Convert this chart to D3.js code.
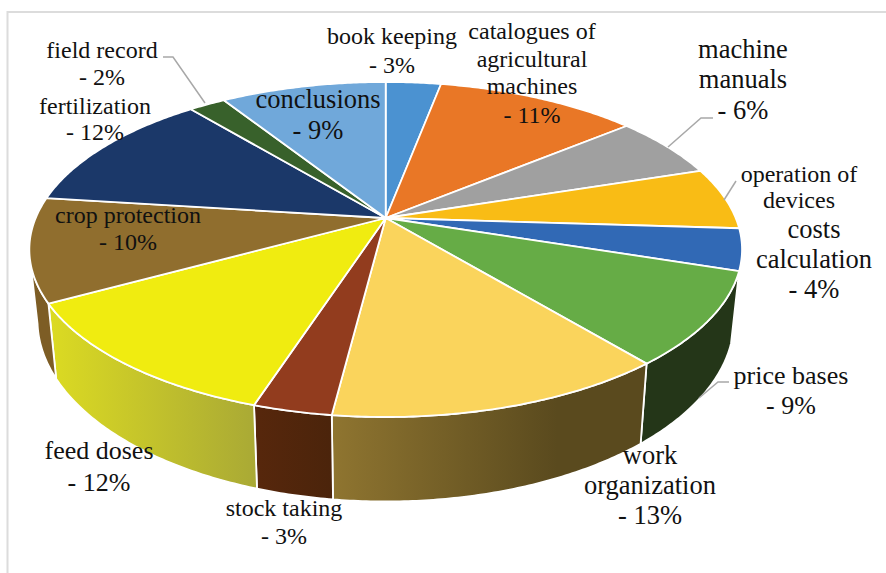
<!DOCTYPE html>
<html>
<head>
<meta charset="utf-8">
<script src="https://cdn.jsdelivr.net/npm/d3@7"></script>
<style>
html,body{margin:0;padding:0;background:#fff;overflow:hidden}
svg{display:block}
text{font-family:"Liberation Serif",serif;fill:#111;text-anchor:middle}
</style>
</head>
<body>
<svg id="chart" width="886" height="573"></svg>
<script>
// DATA
const categories = ["book keeping","catalogues of agricultural machines","machine manuals","operation of devices","costs calculation","price bases","work organization","stock taking","feed doses","crop protection","fertilization","field record","conclusions"];
const shares = [3,11,6,6,4,9,13,3,12,10,12,2,9];
const faceColors = ["#4b92d1","#e97726","#a0a0a0","#f9bc15","#3169b5","#66ac46","#fad45c","#923c1e","#f0ec10","#906e2e","#1b3869","#38612b","#70a8da"];
const wallColorsFrom = [null,null,null,null,null,"#243618","#8f7530","#57270c","#dcdb22","#7d5d25",null,null,null];
const wallColorsTo   = [null,null,null,null,null,"#243618","#5a4a1e","#4b240b","#a9a935","#7d5d25",null,null,null];

// LABEL LAYOUT: [text lines, centre x, baselines, font size]
const labelLines = [
  ["book keeping","- 3%"],
  ["catalogues of","agricultural","machines","- 11%"],
  ["machine","manuals","- 6%"],
  ["operation of","devices"],
  ["costs","calculation","- 4%"],
  ["price bases","- 9%"],
  ["work","organization","- 13%"],
  ["stock taking","- 3%"],
  ["feed doses","- 12%"],
  ["crop protection","- 10%"],
  ["fertilization","- 12%"],
  ["field record","- 2%"],
  ["conclusions","- 9%"]
];
const labelX = [392,532,743,799,814,791,650,284,99,128,95,102,318];
const labelY = [[44,73],[39,67,94,123],[58,88,119],[182,208],[238,268,298],[384,414],[464,494,524],[516,544],[459,491],[223,250],[114,140],[58,85],[108,139]];
const labelSize = [24,24,26.5,24,26.5,26,26.5,24,26,24,24,24,26.5];
const leaders = [
  [[163,57],[173,57],[205,103]],
  [[713,118],[701,118],[668,147]],
  [[736,181],[724,200]],
  [[729,382],[718,382],[699,398]]
];

// PROJECTION of the tilted disc
const cx = 385.7, topY = 218, bottomY = 286;
const persp = 0.188, topA = 350, topB = 161.6, botA = 342, botB = 175;
const wallEndLimit = 258 * Math.PI / 180;
const project = (th, A, B, y0) => {
  const s = Math.sin(th), c = Math.cos(th), d = 1 + persp * c;
  return [cx + A * s / d, y0 - B * c / d];
};
const topPt = th => project(th, topA, topB, topY);
const botPt = th => project(th, botA, botB, bottomY);
const sampleAngles = (a, b) => {
  const n = Math.max(2, Math.ceil((b - a) / 0.01));
  return d3.range(n + 1).map(i => a + (b - a) * i / n);
};

const svg = d3.select("#chart");
const defs = svg.append("defs");

// frame
svg.append("path").attr("d","M7.5,573V12H886").attr("fill","none").attr("stroke","#dcdcdc").attr("stroke-width",2);

const arcs = d3.pie().sort(null).value(d => d)(shares);
const line = d3.line();

// walls
const wallG = svg.append("g");
arcs.forEach((a, i) => {
  if (!wallColorsFrom[i]) return;
  const start = a.startAngle, end = Math.min(a.endAngle, wallEndLimit);
  const angs = sampleAngles(start, end);
  const pts = angs.map(topPt).concat(angs.slice().reverse().map(botPt));
  const xs = pts.map(p => p[0]);
  const id = "wall" + i;
  const g = defs.append("linearGradient").attr("id", id).attr("gradientUnits","userSpaceOnUse")
    .attr("x1", d3.min(xs)).attr("x2", i === 6 ? d3.min(xs) + 225 : d3.max(xs)).attr("y1",0).attr("y2",0);
  g.append("stop").attr("offset",0).attr("stop-color", wallColorsFrom[i]);
  g.append("stop").attr("offset",1).attr("stop-color", wallColorsTo[i]);
  wallG.append("path").attr("d", line(pts) + "Z").attr("fill", `url(#${id})`)
    .attr("stroke","#fff").attr("stroke-width",1.8).attr("stroke-linejoin","round");
});

// top faces
const faceG = svg.append("g");
arcs.forEach((a, i) => {
  const pts = [[cx, topY]].concat(sampleAngles(a.startAngle, a.endAngle).map(topPt));
  faceG.append("path").attr("d", line(pts) + "Z").attr("fill", faceColors[i])
    .attr("stroke","#fff").attr("stroke-width",1.8).attr("stroke-linejoin","round");
});

// leader lines
svg.append("g").selectAll("path").data(leaders).join("path")
  .attr("d", d => line(d)).attr("fill","none").attr("stroke","#a8a8a8").attr("stroke-width",1.5);

// labels
categories.forEach((name, i) => {
  const t = svg.append("text").attr("font-size", labelSize[i]).attr("data-category", name);
  labelLines[i].forEach((s, j) => {
    t.append("tspan").attr("x", labelX[i]).attr("y", labelY[i][j]).text(s);
  });
});
</script>
</body>
</html>
